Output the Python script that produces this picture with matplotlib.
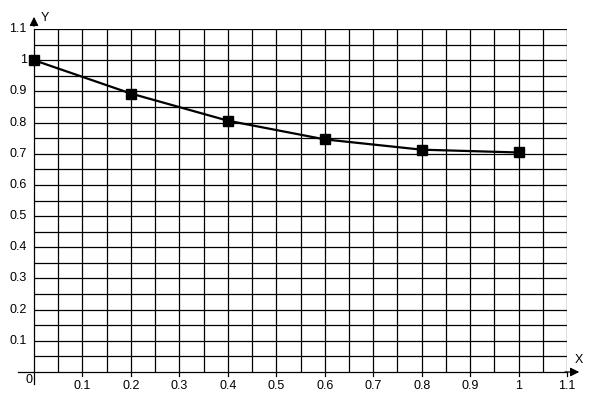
import matplotlib
matplotlib.use("Agg")
import matplotlib.pyplot as plt
import numpy as np

x_vals = [0.0, 0.2, 0.4, 0.6, 0.8, 1.0]
y_vals = [1.0, 0.893, 0.806, 0.746, 0.713, 0.704]
tick_vals = [0.1, 0.2, 0.3, 0.4, 0.5, 0.6, 0.7, 0.8, 0.9, 1.0, 1.1]
tick_labels = ["0.1", "0.2", "0.3", "0.4", "0.5", "0.6", "0.7", "0.8", "0.9", "1", "1.1"]

plt.rcParams['font.family'] = ['Liberation Sans', 'DejaVu Sans']

fig = plt.figure(figsize=(6, 4), dpi=100)
ax = fig.add_axes([34 / 600, 1 - 372 / 400, 533 / 600, 343 / 400])
ax.set_xlim(0, 1.1)
ax.set_ylim(0, 1.1)
for s in ax.spines.values():
    s.set_visible(False)

# grid every 0.05
grid = np.arange(0.05, 1.1001, 0.05)
for g in grid:
    ax.axvline(g, color="black", lw=0.9, zorder=1)
    ax.axhline(g, color="black", lw=0.9, zorder=1)

ax.set_xticks([])
ax.set_yticks([])

# axes with arrows
ax.plot([-0.033, 1.1], [0, 0], color="black", lw=0.9, clip_on=False, zorder=2)
ax.plot([0, 0], [-0.04, 1.1], color="black", lw=0.9, clip_on=False, zorder=2)
ax.annotate("", xy=(1.131, 0), xytext=(1.09, 0),
            arrowprops=dict(arrowstyle="-|>", color="black", lw=0.9, mutation_scale=13),
            annotation_clip=False)
ax.annotate("", xy=(0, 1.148), xytext=(0, 1.1),
            arrowprops=dict(arrowstyle="-|>", color="black", lw=0.9, mutation_scale=13),
            annotation_clip=False)
ax.text(0.013, 1.135, "Y", fontsize=9, ha="left", va="center", clip_on=False)
ax.text(1.125, 0.037, "X", fontsize=9, ha="center", va="center", clip_on=False)

# tick labels
for v, lab in zip(tick_vals, tick_labels):
    ax.text(v, -0.025, lab, fontsize=9, ha="center", va="top", clip_on=False)
    ax.plot([v, v], [0, -0.012], color="black", lw=0.9, clip_on=False)
    ax.text(-0.015, v, lab, fontsize=9, ha="right", va="center", clip_on=False)
ax.text(-0.004, -0.006, "0", fontsize=9, ha="right", va="top", clip_on=False)

ax.plot(x_vals, y_vals, color="black", lw=1.6, marker="s", markersize=6.5,
        zorder=3, clip_on=False)

fig.savefig("out.png", dpi=100)
